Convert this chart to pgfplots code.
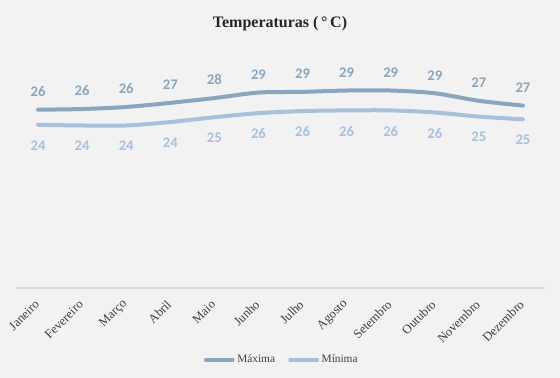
\documentclass[border=0pt]{standalone}
\usepackage{fontspec}
\setmainfont{Liberation Serif}
\newfontfamily\lblfont{Carlito}
\usepackage{pgfplots}
\pgfplotsset{compat=1.18}
\definecolor{bg}{HTML}{F2F2F2}
\definecolor{cmax}{HTML}{8AA5C0}
\definecolor{cmin}{HTML}{A6C0DE}
\definecolor{axgray}{HTML}{D9D9D9}
\definecolor{txt}{HTML}{404040}
\begin{document}
\begin{tikzpicture}
\fill[bg] (0pt,0pt) rectangle (420pt,283.5pt);
\node[font=\bfseries\fontsize{12}{14}\selectfont, text=black!85] at (210pt,266pt) {Temperaturas (\,°\,C)};
\begin{axis}[
  at={(12pt,67.5pt)}, anchor=south west, scale only axis,
  width=396.75pt, height=180pt,
  xmin=-0.5, xmax=11.5, ymin=0, ymax=35,
  axis x line*=bottom, axis y line=none,
  x axis line style={draw=axgray, line width=0.8pt},
  xtick={0,...,11},
  xticklabels={Janeiro,Fevereiro,Março,Abril,Maio,Junho,Julho,Agosto,Setembro,Outubro,Novembro,Dezembro},
  x tick label style={rotate=45, anchor=east, font=\fontsize{9.5}{10}\selectfont, text=txt, inner sep=1pt},
  xticklabel shift=10pt,
  major tick length=0pt,
  ytick=\empty,
  clip=false,
  legend style={at={(0.503,-0.3)}, anchor=center, draw=none, fill=none, legend columns=2,
    font=\fontsize{8.5}{9}\selectfont, text=txt,
    /tikz/every even column/.append style={column sep=8pt}},
  legend image code/.code={\draw[#1, line width=3pt, line cap=round] (0pt,0pt) -- (20pt,0pt);},
]
\addplot[cmax, line width=3pt, smooth, line cap=round, mark=none,
  nodes near coords, point meta=explicit symbolic,
  nodes near coords style={font=\lblfont\bfseries\fontsize{11}{12}\selectfont, text=cmax, anchor=south, yshift=5pt}]
  table[meta=l] {
x y l
0 26.0 26
1 26.1 26
2 26.4 26
3 27.0 27
4 27.7 28
5 28.5 29
6 28.6 29
7 28.8 29
8 28.8 29
9 28.4 29
10 27.3 27
11 26.6 27
};
\addlegendentry{Máxima}
\addplot[cmin, line width=3pt, smooth, line cap=round, mark=none,
  nodes near coords, point meta=explicit symbolic,
  nodes near coords style={font=\lblfont\bfseries\fontsize{11}{12}\selectfont, text=cmin, anchor=north, yshift=-7pt}]
  table[meta=l] {
x y l
0 23.8 24
1 23.7 24
2 23.7 24
3 24.2 24
4 24.9 25
5 25.5 26
6 25.8 26
7 25.9 26
8 25.9 26
9 25.6 26
10 25.0 25
11 24.6 25
};
\addlegendentry{Mínima}
\end{axis}
\pgfresetboundingbox
\useasboundingbox (0pt,0pt) rectangle (420pt,283.5pt);
\end{tikzpicture}
\end{document}
